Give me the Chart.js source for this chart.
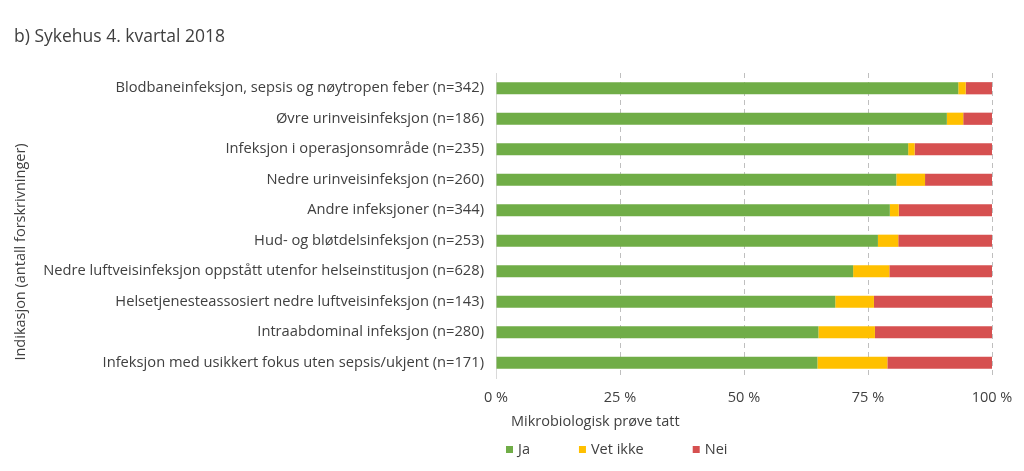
<!DOCTYPE html>
<html>
<head>
<meta charset="utf-8">
<script src="https://cdn.jsdelivr.net/npm/chart.js@4"></script>
<style>
  html, body { margin: 0; padding: 0; background: #fff; }
  #wrap { width: 1024px; height: 471px; position: relative; }
</style>
</head>
<body>
<div id="wrap"><canvas id="c" width="1024" height="471"></canvas></div>
<script>
const chartTitle = 'b) Sykehus 4. kvartal 2018';
const yAxisTitle = 'Indikasjon (antall forskrivninger)';
const xAxisTitle = 'Mikrobiologisk prøve tatt';
const categories = [
  'Blodbaneinfeksjon, sepsis og nøytropen feber (n=342)',
  'Øvre urinveisinfeksjon (n=186)',
  'Infeksjon i operasjonsområde (n=235)',
  'Nedre urinveisinfeksjon (n=260)',
  'Andre infeksjoner (n=344)',
  'Hud- og bløtdelsinfeksjon (n=253)',
  'Nedre luftveisinfeksjon oppstått utenfor helseinstitusjon (n=628)',
  'Helsetjenesteassosiert nedre luftveisinfeksjon (n=143)',
  'Intraabdominal infeksjon (n=280)',
  'Infeksjon med usikkert fokus uten sepsis/ukjent (n=171)'
];
const seriesNames = ['Ja', 'Vet ikke', 'Nei'];
const ja      = [93.2, 90.9, 83.1, 80.7, 79.4, 77.0, 72.0, 68.4, 65.0, 64.8];
const vetIkke = [ 1.5,  3.3,  1.3,  5.8,  1.8,  4.1,  7.3,  7.8, 11.4, 14.1];
const nei     = [ 5.3,  5.8, 15.6, 13.5, 18.8, 18.9, 20.7, 23.8, 23.6, 21.1];
const xTicks = [0, 25, 50, 75, 100];
const colors = ['#70AD47', '#FFC000', '#D65050'];

const FONT = '"Open Sans", sans-serif';
const TEXT = '#404040';

const decorPlugin = {
  id: 'decor',
  afterDraw(chart) {
    const ctx = chart.ctx;
    const ca = chart.chartArea;
    ctx.save();
    ctx.fillStyle = TEXT;
    // title
    ctx.font = '17.5px ' + FONT;
    ctx.textAlign = 'left';
    ctx.textBaseline = 'middle';
    ctx.fillText(chartTitle, 14, 37);
    // y title
    ctx.save();
    ctx.translate(21, 252);
    ctx.rotate(-Math.PI / 2);
    ctx.font = '14.5px ' + FONT;
    ctx.textAlign = 'center';
    ctx.fillText(yAxisTitle, 0, 0);
    ctx.restore();
    // x title
    ctx.font = '14.5px ' + FONT;
    ctx.textAlign = 'left';
    ctx.fillText(xAxisTitle, ca.left + 15, 422);
    // legend
    let x = ca.left + 10;
    const y = 450;
    chart.data.datasets.forEach((ds, i) => {
      ctx.fillStyle = ds.backgroundColor;
      ctx.fillRect(x, y - 4, 7, 7);
      x += 12;
      ctx.fillStyle = TEXT;
      ctx.font = '14.5px ' + FONT;
      ctx.fillText(ds.label, x, y);
      x += ctx.measureText(ds.label).width + 49;
    });
    ctx.restore();
  }
};

new Chart(document.getElementById('c'), {
  type: 'bar',
  data: {
    labels: categories,
    datasets: [
      { label: seriesNames[0], data: ja, backgroundColor: colors[0] },
      { label: seriesNames[1], data: vetIkke, backgroundColor: colors[1] },
      { label: seriesNames[2], data: nei, backgroundColor: colors[2] }
    ]
  },
  options: {
    indexAxis: 'y',
    responsive: false,
    animation: false,
    devicePixelRatio: 1,
    layout: { padding: { left: 40, right: 32, top: 73, bottom: 63 } },
    datasets: { bar: { barPercentage: 0.4, categoryPercentage: 1.0, borderWidth: 0 } },
    plugins: { legend: { display: false }, tooltip: { enabled: false }, title: { display: false } },
    scales: {
      x: {
        stacked: true,
        min: 0, max: 100,
        afterFit(s) { s.height = 30; },
        afterBuildTicks(s) { s.ticks = xTicks.map(v => ({ value: v })); },
        grid: {
          drawTicks: false,
          color: ctx => (ctx.tick && ctx.tick.value === 0) ? 'rgba(0,0,0,0)' : '#BFBFBF',
          lineWidth: 1
        },
        border: { display: false, dash: [5, 4] },
        ticks: {
          padding: 11,
          color: TEXT,
          font: { family: FONT, size: 14.5 },
          callback: v => v + ' %'
        }
      },
      y: {
        stacked: true,
        afterFit(s) { s.width = 456; },
        grid: { display: false, drawTicks: false },
        border: { display: true, color: '#D9D9D9', width: 1 },
        ticks: {
          padding: 12,
          color: TEXT,
          font: { family: FONT, size: 14.7 }
        }
      }
    }
  },
  plugins: [decorPlugin]
});
</script>
</body>
</html>
